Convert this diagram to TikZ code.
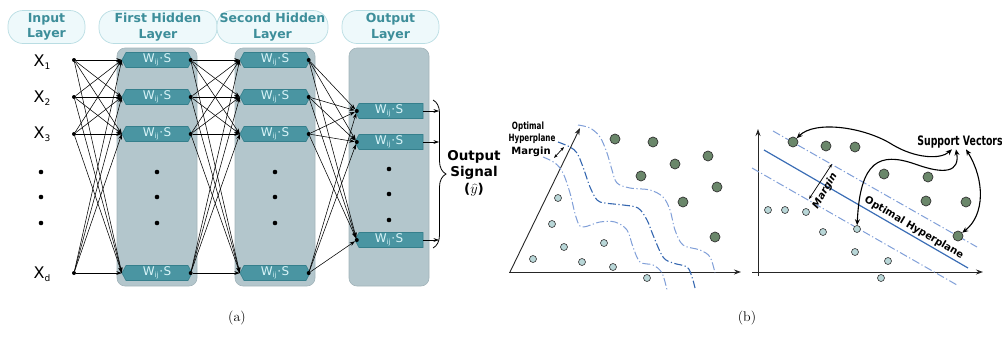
\documentclass[tikz,border=0pt]{standalone}
\usepackage{fontspec}
\newfontfamily\dv{DejaVu Sans}
\newfontfamily\dvc[FakeStretch=0.72]{DejaVu Sans}
\usetikzlibrary{arrows.meta,decorations.pathreplacing}
\definecolor{hdrfill}{HTML}{EEF9FB}
\definecolor{hdrdraw}{HTML}{B9DDE3}
\definecolor{hdrtext}{HTML}{3D8E9A}
\definecolor{panel}{HTML}{B3C6CC}
\definecolor{paneldraw}{HTML}{A2B4BA}
\definecolor{boxfill}{HTML}{4A95A2}
\definecolor{boxdraw}{HTML}{357F8C}
\definecolor{boxtext}{HTML}{D9F4F8}
\definecolor{darkpt}{HTML}{6A876A}
\definecolor{lightpt}{HTML}{B9D7D8}
\definecolor{lblue}{HTML}{809FD8}
\definecolor{dblue}{HTML}{3567B0}
\definecolor{sblue}{HTML}{3A6DB5}
\newcommand\wij{W\raisebox{-2.2pt}{\fontsize{7}{7}\selectfont ij}\kern0.8pt·\kern0.3pt S}
\newcommand\xlab[1]{X\raisebox{-3.5pt}{\fontsize{9}{9}\selectfont #1}}
\newcommand\wboxH[3]{%
  \filldraw[boxshape] (#2-35,#3) -- (#2-31,#3-7.5) -- (#2+31,#3-7.5) -- (#2+35,#3) -- (#2+31,#3+7.5) -- (#2-31,#3+7.5) -- cycle;
  \node[wtext, minimum width=70pt] (#1) at (#2,#3) {\wij};}
\newcommand\wboxO[3]{%
  \filldraw[boxshape] (#2-34,#3) -- (#2-30,#3-7.5) -- (#2+34,#3-7.5) -- (#2+34,#3+7.5) -- (#2-30,#3+7.5) -- cycle;
  \node[wtext, minimum width=68pt] (#1) at (#2,#3) {\wij};}
\tikzset{
  hdr/.style={draw=hdrdraw, fill=hdrfill, rounded corners=15pt, line width=0.7pt, text=hdrtext,
    font=\dv\bfseries\fontsize{12.5}{15.5}\selectfont, align=center, inner sep=0pt, minimum height=33pt},
  layerpanel/.style={draw=paneldraw, fill=panel, rounded corners=8pt, line width=0.6pt, inner sep=0pt,
    minimum width=80pt, minimum height=238pt},
  boxshape/.style={fill=boxfill, draw=boxdraw, line width=0.6pt},
  wtext/.style={rectangle, inner sep=0pt, minimum height=15pt, text=boxtext, font=\dv\fontsize{12}{12}\selectfont},
  dot/.style={circle, fill=black, inner sep=0pt, minimum size=4pt},
  bigdot/.style={circle, fill=black, inner sep=0pt, minimum size=4.6pt},
  conn/.style={-{Stealth[length=5.5pt,width=3.8pt]}, line width=0.55pt},
  xtext/.style={font=\dv\fontsize{16}{16}\selectfont, inner sep=0pt},
  axis/.style={line width=0.9pt, black!85, -{Stealth[length=7pt,width=5pt]}},
  dpt/.style={circle, draw=black!80, fill=darkpt, line width=0.7pt, inner sep=0pt, minimum size=10pt},
  lpt/.style={circle, draw=black!80, fill=lightpt, line width=0.6pt, inner sep=0pt, minimum size=7pt},
  dashdot/.style={dash pattern=on 8pt off 2.5pt on 1.2pt off 2.5pt},
  lcurve/.style={dashdot, lblue, line width=1pt},
  dcurve/.style={dashdot, dblue, line width=1.1pt},
  svarrow/.style={{Stealth[length=6pt,width=5pt]}-{Stealth[length=6pt,width=5pt]}, line width=1.1pt},
  marrow/.style={{Stealth[length=4pt,width=3pt]}-{Stealth[length=4pt,width=3pt]}, line width=0.7pt},
  sublabel/.style={font=\fontsize{14}{16}\selectfont, inner sep=0pt}
}
\begin{document}
\begin{tikzpicture}[x=1pt,y=-1pt]
\useasboundingbox (0,0) rectangle (1002,354);
% ---------------- panel (a) ----------------
\node[hdr, minimum width=77pt]  (hin) at (46.5,27) {Input\\Layer};
\node[hdr, minimum width=118pt] (hh1) at (158,27) {First Hidden\\Layer};
\node[hdr, minimum width=111pt] (hh2) at (272.5,27) {Second Hidden\\Layer};
\node[hdr, minimum width=97pt]  (hout) at (390.5,27) {Output\\Layer};
\node[layerpanel] (p1) at (157,167) {};
\node[layerpanel] (p2) at (275,167) {};
\node[layerpanel] (p3) at (389,167) {};
% input labels
\node[xtext] (x1) at (42,62) {\xlab{1}};
\node[xtext] (x2) at (42,98) {\xlab{2}};
\node[xtext] (x3) at (42,134) {\xlab{3}};
\node[xtext] (xd) at (42,274) {\xlab{d}};
\foreach \yy [count=\k] in {172,197,223}{
  \node[bigdot] (xdot\k) at (41,\yy) {};
  \node[bigdot] (h1dot\k) at (157,\yy) {};
  \node[bigdot] (h2dot\k) at (275,\yy) {};
}
\foreach \yy [count=\k] in {169,194,220}{\node[bigdot] (odot\k) at (389,\yy) {};}
% input dots
\node[dot] (i1) at (74,60) {};
\node[dot] (i2) at (74,97) {};
\node[dot] (i3) at (74,134) {};
\node[dot] (i4) at (74,273) {};
% hidden boxes
\wboxH{h1a}{157}{60}\wboxH{h1b}{157}{97}\wboxH{h1c}{157}{134}\wboxH{h1d}{157}{273}
\wboxH{h2a}{275}{60}\wboxH{h2b}{275}{97}\wboxH{h2c}{275}{134}\wboxH{h2d}{275}{273}
\wboxO{o1}{389}{111}\wboxO{o2}{389}{142}\wboxO{o3}{389}{240}
\foreach \n in {h1a,h1b,h1c,h1d,h2a,h2b,h2c,h2d}{\node[dot] (\n-o) at ([xshift=-1.5pt]\n.east) {};}
\foreach \n in {o1,o2,o3}{\node[dot] (\n-i) at ([xshift=2pt]\n.west) {};}
% connections
\foreach \s in {i1,i2,i3,i4}{\foreach \t in {h1a,h1b,h1c,h1d}{\draw[conn] (\s) -- (\t.west);}}
\foreach \s in {h1a-o,h1b-o,h1c-o,h1d-o}{\foreach \t in {h2a,h2b,h2c,h2d}{\draw[conn] (\s) -- (\t.west);}}
\foreach \s in {h2a-o,h2b-o,h2c-o,h2d-o}{\foreach \t in {o1-i,o2-i,o3-i}{\draw[conn] (\s) -- (\t);}}
\coordinate (b1) at (439,111);
\coordinate (b2) at (439,142);
\coordinate (b3) at (439,240);
\draw[conn] (o1.east) -- (b1);
\draw[conn] (o2.east) -- (b2);
\draw[conn] (o3.east) -- (b3);
\coordinate (brt) at (433,100);
\coordinate (brb) at (433,248);
\draw[line width=0.8pt, decorate, decoration={brace, amplitude=13pt}] (brt) -- (brb);
\node[font=\dv\bfseries\fontsize{13.5}{16.5}\selectfont, align=center, inner sep=0pt] (sig) at (474,173)
  {Output\\Signal\\($\widehat{y}$)};
\node[sublabel] (la) at (237,318) {(a)};
% ---------------- panel (b) left ----------------
\coordinate (lo) at (510,272);
\coordinate (lx) at (741,272);
\coordinate (ly) at (580,128);
\draw[axis] (509,272) -- (lx);
\draw[axis] (lo) -- (ly);
\draw[lcurve] plot[smooth, tension=0.55] coordinates {(578,125) (590,128) (600,137) (607,153) (612,170) (617,183) (630,188) (650,190) (663,197) (670,210) (675,230) (683,245) (700,250) (710,257) (715,273)};
\draw[dcurve] plot[smooth, tension=0.55] coordinates {(558,142) (570,147) (577,153) (583,167) (590,187) (597,200) (605,203) (623,205) (638,208) (647,220) (653,235) (663,257) (673,263) (687,267) (692,277) (695,288)};
\draw[lcurve] plot[smooth, tension=0.55] coordinates {(543,157) (555,163) (563,173) (570,193) (576,217) (582,227) (600,222) (615,222) (627,230) (633,247) (640,262) (653,265) (662,273) (667,290)};
\node[font=\dvc\bfseries\fontsize{10}{10}\selectfont, inner sep=0pt] (lopt) at (528,127) {Optimal};
\node[font=\dvc\bfseries\fontsize{10}{10}\selectfont, inner sep=0pt] (lhyp) at (532,139) {Hyperplane};
\node[font=\dv\bfseries\fontsize{10}{10}\selectfont, inner sep=0pt] (lmar) at (531,152) {Margin};
\coordinate (lm1) at (554,158);
\coordinate (lm2) at (564,147);
\draw[marrow] (lm1) -- (lm2);
\foreach \p [count=\k] in {(615,139),(653,142),(708,156),(675,164),(641,176),(717,187),(683,202),(715,237)}{\node[dpt] (ld\k) at \p {};}
\foreach \p [count=\k] in {(558,198),(552,224),(564,247),(604,243),(533,259),(582,262),(613,267),(647,278)}{\node[lpt] (ll\k) at \p {};}
% ---------------- panel (b) right ----------------
\coordinate (ro) at (758,276);
\coordinate (rx) at (983,272);
\coordinate (ry) at (758,129);
\draw[axis] (752,272) -- (rx);
\draw[axis] (ro) -- (ry);
\draw[lcurve] (773,131) -- (977,247);
\draw[lcurve] (752,168) -- (957,285);
\draw[sblue, line width=1.2pt] (764,150) -- (968,268);
\node[font=\dv\bfseries\fontsize{10}{10}\selectfont, rotate=-30.5, inner sep=0pt] (ropt) at (914,228) {Optimal Hyperplane};
\coordinate (rm1) at (809,199);
\coordinate (rm2) at (832,164);
\draw[marrow] (rm1) -- (rm2);
\node[font=\dv\bfseries\itshape\fontsize{10}{10}\selectfont, rotate=60, inner sep=0pt] (rmar) at (825,191) {Margin};
\foreach \p [count=\k] in {(793,142),(826,146),(855,147),(884,174),(928,177),(926,201),(966,202),(958,236)}{\node[dpt] (rd\k) at \p {};}
\foreach \p [count=\k] in {(768,210),(785,210),(806,212),(823,232),(857,229),(855,252),(888,261),(881,278)}{\node[lpt] (rl\k) at \p {};}
\node[font=\dvc\bfseries\fontsize{13}{13}\selectfont, inner sep=0pt] (svt) at (960,142) {Support Vectors};
\draw[svarrow] ([xshift=-8pt,yshift=-1pt]svt.south) .. controls (940,160) and (915,158) .. (893,145) .. controls (865,127) and (815,120) .. (rd1);
\draw[svarrow] ([xshift=-4pt,yshift=-1pt]svt.south) .. controls (960,172) and (945,175) .. (915,164) .. controls (880,152) and (860,160) .. (rl5);
\draw[svarrow] ([xshift=6pt,yshift=-1pt]svt.south) .. controls (985,180) and (985,215) .. (rd8);
\node[sublabel] (lb) at (747,318) {(b)};
\end{tikzpicture}
\end{document}
